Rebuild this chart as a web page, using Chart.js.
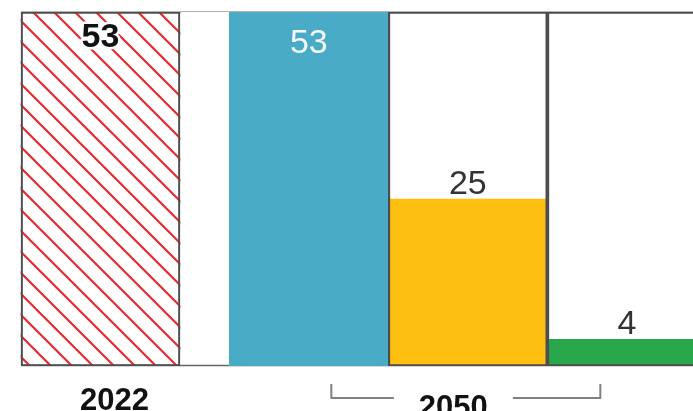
<!DOCTYPE html>
<html>
<head>
<meta charset="utf-8">
<script src="https://cdn.jsdelivr.net/npm/chart.js@4"></script>
<style>
  body { margin: 0; background: #fff; }
</style>
</head>
<body>
<canvas id="myChart" width="693" height="411"></canvas>
<script>
// share values: 2022 against the three 2050 cases
const bars = ['2022', '2050 A', '2050 B', '2050 C'];
const values = [53, 53, 25, 4];
const yearLabels = ['2022', '2050'];
const maxValue = 53;
// bar centres in bar widths, 2022 stands apart from the 2050 group
const slots = [0, 1.31, 2.31, 3.31];

const fills = [null, '#4aabc7', '#fdbf10', '#28a84b'];
const frameColors = ['#4d4d4d', 'rgba(0,0,0,0)', '#4d4d4d', '#4d4d4d'];
const labelColors = ['#111111', '#f4f8fa', '#333333', '#333333'];
const barWidth = 159;

// red diagonal hatching for the 2022 bar
function hatch() {
  const s = 21;
  const c = document.createElement('canvas');
  c.width = s; c.height = s;
  const g = c.getContext('2d');
  g.strokeStyle = '#e62b32';
  g.lineWidth = 2.2;
  g.beginPath();
  g.moveTo(-2, -2); g.lineTo(s + 2, s + 2);
  g.moveTo(-2, s - 2); g.lineTo(2, s + 2);
  g.moveTo(s - 2, -2); g.lineTo(s + 2, 2);
  g.stroke();
  return g.createPattern(c, 'repeat');
}
fills[0] = hatch();

const decor = {
  id: 'decor',
  beforeDatasetsDraw(chart) {
    const ctx = chart.ctx;
    const y = chart.scales.y;
    const first = chart.getDatasetMeta(1).data[0];
    const left = first.x - first.width / 2;
    ctx.save();
    ctx.lineWidth = 1.2;
    ctx.strokeStyle = '#b4b4b4';
    ctx.beginPath();
    ctx.moveTo(left, y.getPixelForValue(maxValue) - 0.5);
    ctx.lineTo(chart.width, y.getPixelForValue(maxValue) - 0.5);
    ctx.stroke();
    ctx.strokeStyle = '#666';
    ctx.lineWidth = 1.5;
    ctx.beginPath();
    ctx.moveTo(left, y.getPixelForValue(0) - 0.5);
    ctx.lineTo(chart.width, y.getPixelForValue(0) - 0.5);
    ctx.stroke();
    ctx.restore();
  },
  afterDatasetsDraw(chart) {
    const ctx = chart.ctx;
    const els = chart.getDatasetMeta(1).data;
    ctx.save();
    ctx.textAlign = 'center';
    ctx.textBaseline = 'alphabetic';
    els.forEach((el, i) => {
      const txt = String(values[i]);
      let by;
      if (values[i] === maxValue) {
        by = el.y + (i === 0 ? 35 : 41);
      } else {
        by = el.y - 5;
      }
      if (i === 0) {
        ctx.font = 'bold 34px "Liberation Sans", Arial, sans-serif';
        ctx.lineJoin = 'round';
        ctx.lineWidth = 5;
        ctx.strokeStyle = '#fff';
        ctx.strokeText(txt, el.x, by);
      } else {
        ctx.font = '34px "Liberation Sans", Arial, sans-serif';
      }
      ctx.fillStyle = labelColors[i];
      ctx.fillText(txt, el.x, by);
    });

    // year labels under the bars
    ctx.font = 'bold 31px "Liberation Sans", Arial, sans-serif';
    ctx.fillStyle = '#111';
    ctx.fillText(yearLabels[0], els[0].x + 14, 410);

    const c = els[2].x;
    const tx = c - 14.5;
    ctx.fillText(yearLabels[1], tx, 417);
    const half = ctx.measureText(yearLabels[1]).width / 2 + 25;
    ctx.strokeStyle = '#808080';
    ctx.lineWidth = 2;
    ctx.beginPath();
    ctx.moveTo(c - 136.5, 384);
    ctx.lineTo(c - 136.5, 398);
    ctx.lineTo(tx - half, 398);
    ctx.moveTo(tx + half, 398);
    ctx.lineTo(c + 132.5, 398);
    ctx.lineTo(c + 132.5, 384);
    ctx.stroke();
    ctx.restore();
  }
};

new Chart(document.getElementById('myChart'), {
  type: 'bar',
  data: {
    labels: bars,
    datasets: [
      {
        label: 'frame',
        data: slots.map(s => ({ x: s, y: maxValue })),
        backgroundColor: 'rgba(0,0,0,0)',
        borderColor: frameColors,
        borderWidth: 1.5,
        borderSkipped: false,
        grouped: false,
        barThickness: barWidth,
        order: 0
      },
      {
        label: 'share',
        data: slots.map((s, i) => ({ x: s, y: values[i] })),
        backgroundColor: fills,
        borderWidth: 0,
        grouped: false,
        barThickness: barWidth,
        order: 1
      }
    ]
  },
  options: {
    responsive: false,
    animation: false,
    devicePixelRatio: 1,
    layout: { padding: { top: 12, bottom: 45, left: 0, right: 0 } },
    scales: {
      x: { type: 'linear', min: -0.632, max: 3.726, offset: false, display: false },
      y: { min: 0, max: maxValue, display: false }
    },
    plugins: {
      legend: { display: false },
      tooltip: { enabled: false }
    }
  },
  plugins: [decor]
});
</script>
</body>
</html>
